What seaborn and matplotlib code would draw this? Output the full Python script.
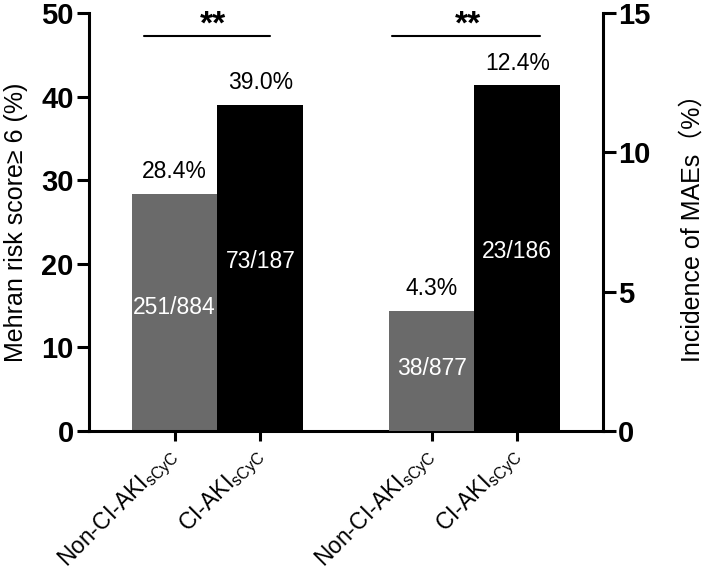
import matplotlib
matplotlib.use('Agg')
import matplotlib.pyplot as plt
import seaborn as sns
import pandas as pd

sns.set_style("ticks")
plt.rcParams['font.family'] = ['Liberation Sans', 'DejaVu Sans']
plt.rcParams['mathtext.fontset'] = 'custom'
plt.rcParams['mathtext.rm'] = 'Liberation Sans'
for k in ['text.color', 'axes.labelcolor', 'xtick.color', 'ytick.color', 'axes.edgecolor']:
    plt.rcParams[k] = 'black'

COR_CINZA = "#6a6a6a"
COR_PRETA = "#000000"

# dados
grupos = [r'Non-CI-AKI$_{\mathregular{sCyC}}$', r'CI-AKI$_{\mathregular{sCyC}}$']
mehran_pct = [28.4, 39.0]          # eixo esquerdo
mehran_n = ["251/884", "73/187"]
mae_pct = [4.3, 12.4]               # eixo direito
mae_n = ["38/877", "23/186"]
sig = ["**", "**"]

pos_esq = [0, 1]
pos_dir = [3, 4]

fig = plt.figure(figsize=(7.09, 5.76), dpi=100)
ax = fig.add_axes([0.1255, 0.2517, 0.725, 0.7257])
ax2 = ax.twinx()

df_esq = pd.DataFrame({"pos": pos_esq, "val": mehran_pct, "grp": ["a", "b"]})
df_dir = pd.DataFrame({"pos": pos_dir, "val": mae_pct, "grp": ["a", "b"]})

sns.barplot(data=df_esq, x="pos", y="val", hue="grp", palette=[COR_CINZA, COR_PRETA],
            native_scale=True, dodge=False, width=1.0, saturation=1, linewidth=0,
            legend=False, ax=ax)
sns.barplot(data=df_dir, x="pos", y="val", hue="grp", palette=[COR_CINZA, COR_PRETA],
            native_scale=True, dodge=False, width=1.0, saturation=1, linewidth=0,
            legend=False, ax=ax2)

ax.set_xlim(-1, 5)
ax.set_ylim(0, 50)
ax2.set_ylim(0, 15)
ax.set_yticks([0, 10, 20, 30, 40, 50])
ax2.set_yticks([0, 5, 10, 15])
ax.set_xticks(pos_esq + pos_dir)
ax.set_xticklabels(grupos + grupos, rotation=45, ha='right', va='center',
                   rotation_mode='anchor', fontsize=16.5)

for a in (ax, ax2):
    a.set_xlabel("")
    for lbl in a.get_yticklabels():
        lbl.set_fontweight('bold')
    a.tick_params(axis='y', labelsize=21, width=2.2, length=9, pad=2)
    a.spines['top'].set_visible(False)
    for s in a.spines.values():
        s.set_linewidth(2.2)
ax.spines['right'].set_visible(False)
ax2.spines['left'].set_visible(False)
ax2.spines['bottom'].set_visible(False)
ax.tick_params(axis='x', width=2.2, length=7, pad=9)

ax.set_ylabel("Mehran risk score≥ 6 (%)", fontsize=18)
ax2.set_ylabel("Incidence of MAEs（%）", fontsize=18,
               family=['Liberation Sans', 'Noto Sans CJK SC'])
ax.yaxis.set_label_coords(-0.118, 0.5)
ax2.yaxis.set_label_coords(1.150, 0.5)

# rotulos das barras
for a, xs, vals, ns in [(ax, pos_esq, mehran_pct, mehran_n), (ax2, pos_dir, mae_pct, mae_n)]:
    for x, v, n in zip(xs, vals, ns):
        a.annotate(f"{v:.1f}%", (x, v), xytext=(0, 16), textcoords='offset points',
                   ha='center', va='center', fontsize=16.5)
        a.text(x, v * 0.52, n, ha='center', va='center', fontsize=16.5, color='white')

# significancia
for (x0, x1, xs), s in zip([(-0.36, 1.11, 0.445), (2.54, 4.27, 3.42)], sig):
    ax.plot([x0, x1], [47.2, 47.2], color='black', lw=1.5, clip_on=False)
    ax.text(xs, 47.5, s, ha='center', va='baseline', fontsize=24, fontweight='bold')

plt.savefig("out.png", dpi=100)
plt.close()
